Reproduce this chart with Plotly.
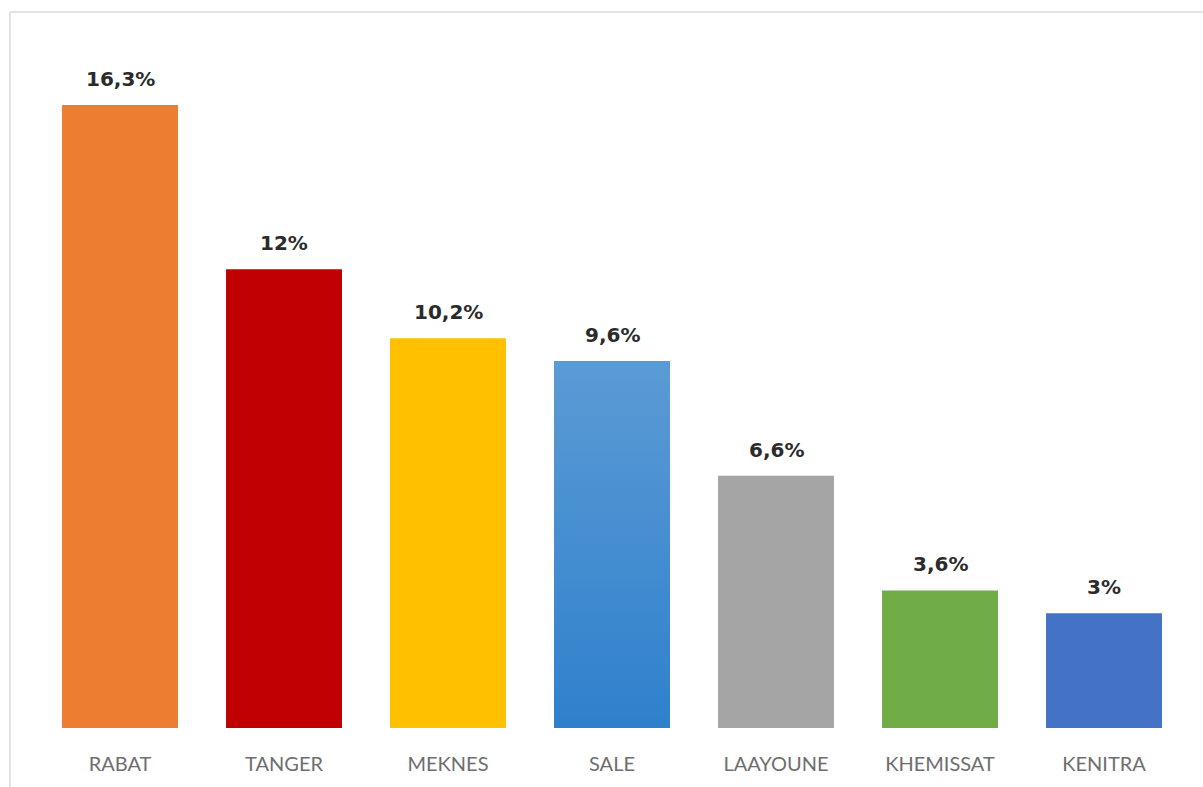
import plotly.graph_objects as go

# Share of respondents by city
cities = ["RABAT", "TANGER", "MEKNES", "SALE", "LAAYOUNE", "KHEMISSAT", "KENITRA"]
values = [16.3, 12, 10.2, 9.6, 6.6, 3.6, 3]
value_labels = ["16,3%", "12%", "10,2%", "9,6%", "6,6%", "3,6%", "3%"]
colors = ["#ED7D31", "#C00000", "#FFC000", "#4A90D6", "#A5A5A5", "#70AD47", "#4472C4"]

BAR_WIDTH = 0.707
W, H = 1203, 787
M_L, M_R, M_T, M_B = 38, 17, 40, 57

positions = list(range(len(cities)))

fig = go.Figure()
fig.add_trace(go.Bar(
    x=positions, y=values, width=BAR_WIDTH,
    marker=dict(color=colors, line=dict(width=0)),
    hoverinfo="skip", showlegend=False,
))

# SALE bar gets a vertical gradient fill drawn on top of its solid bar
i = cities.index("SALE")
half = BAR_WIDTH / 2
fig.add_trace(go.Scatter(
    x=[i - half, i + half, i + half, i - half, i - half],
    y=[0, 0, values[i], values[i], 0],
    mode="lines", line=dict(width=0),
    fill="toself",
    fillgradient=dict(type="vertical",
                      colorscale=[[0, "#2F80CC"], [1, "#5B9BD5"]]),
    hoverinfo="skip", showlegend=False,
))

for x, v, t in zip(positions, values, value_labels):
    fig.add_annotation(
        x=x, y=v, text=t, showarrow=False, yanchor="middle", yshift=26,
        font=dict(family="DejaVu Sans", size=20, color="#2B2B2B", weight="bold"),
    )

plot_w = W - M_L - M_R
plot_h = H - M_T - M_B
# thin light frame along the top and left edges
fx0 = (10 - M_L) / plot_w
fx1 = (W + 5 - M_L) / plot_w
fy_top = (H - M_B - 12) / plot_h
fy_bot = (H - M_B - (H + 5)) / plot_h
fig.add_shape(type="line", xref="paper", yref="paper", x0=fx0, x1=fx1,
              y0=fy_top, y1=fy_top, line=dict(color="#E3E3E3", width=2))
fig.add_shape(type="line", xref="paper", yref="paper", x0=fx0, x1=fx0,
              y0=fy_bot, y1=fy_top, line=dict(color="#E3E3E3", width=2))

fig.update_layout(
    width=W, height=H,
    margin=dict(l=M_L, r=M_R, t=M_T, b=M_B),
    paper_bgcolor="white", plot_bgcolor="white",
    xaxis=dict(
        range=[-0.5, len(cities) - 0.5],
        tickmode="array", tickvals=positions, ticktext=cities,
        showgrid=False, zeroline=False, showline=False,
        ticks="outside", ticklen=18, tickcolor="rgba(0,0,0,0)",
        tickfont=dict(family="Lato", size=20, color="#6E6E6E"),
    ),
    yaxis=dict(range=[0, 18], visible=False),
)

fig.write_html("out.html")
